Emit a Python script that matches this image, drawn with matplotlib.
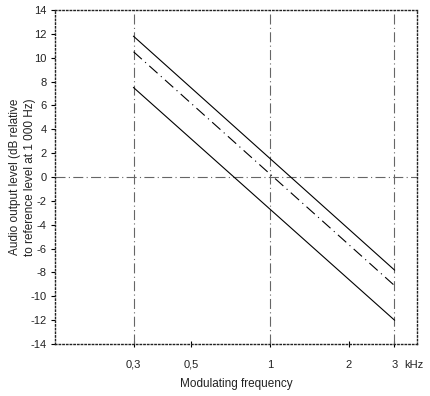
import matplotlib
matplotlib.use("Agg")
import matplotlib.pyplot as plt
import numpy as np
from matplotlib.ticker import FixedLocator, NullLocator

plt.rcParams['font.family'] = ['Liberation Sans', 'DejaVu Sans']
plt.rcParams['axes.unicode_minus'] = False

# frequencies in kHz, levels in dB
freq = [0.3, 3]
upper = [11.8, -7.8]
middle = [10.5, -9.1]
lower = [7.5, -12.0]

xticks = [0.3, 0.5, 1, 2, 3]
xticklabels = ["0,3", "0,5", "1", "2", "3"]
yticks = list(range(-14, 15, 2))
vlines = [0.3, 1, 3]

fig = plt.figure(figsize=(4.31, 3.96), dpi=100)
ax = fig.add_axes([0.1276, 0.1313, 0.84, 0.8434])

grid_col = '#666666'
for v in vlines:
    ax.axvline(v, color=grid_col, lw=0.8, ls=(0, (9, 3, 1, 3)))
ax.axhline(0, color=grid_col, lw=0.8, ls=(0, (9, 3, 1, 3)))

ax.plot(freq, upper, color='black', lw=0.8)
ax.plot(freq, middle, color='black', lw=0.8, ls=(0, (10, 4, 1, 4)))
ax.plot(freq, lower, color='black', lw=0.8)

ax.set_xscale('log')
ax.set_xlim(0.150, 3.66)
ax.set_ylim(-14, 14)
ax.xaxis.set_major_locator(FixedLocator(xticks))
ax.xaxis.set_minor_locator(NullLocator())
ax.set_xticklabels(xticklabels)
ax.set_yticks(yticks)
ax.tick_params(axis='x', direction='inout', length=5, width=0.8, labelsize=8, pad=9,
               labelcolor='#222222')
ax.tick_params(axis='y', direction='out', length=3, width=0.8, labelsize=8, pad=3,
               labelcolor='#222222')

for s in ax.spines.values():
    s.set_linestyle(':')
    s.set_linewidth(1.0)
    s.set_color('#222222')

ax.set_xlabel("Modulating frequency", fontsize=8.5, labelpad=6, color='#222222')
ax.set_ylabel("Audio output level (dB relative\nto reference level at 1 000 Hz)",
              fontsize=8.5, linespacing=1.4, color='#222222')
ax.yaxis.set_label_coords(-0.052, 0.5)
ax.annotate("kHz", xy=(1.0, 0), xycoords='axes fraction', xytext=(-2, -11.5),
            textcoords='offset points', fontsize=8, ha='center', va='top',
            color='#222222')

fig.savefig("out.png", dpi=100)
